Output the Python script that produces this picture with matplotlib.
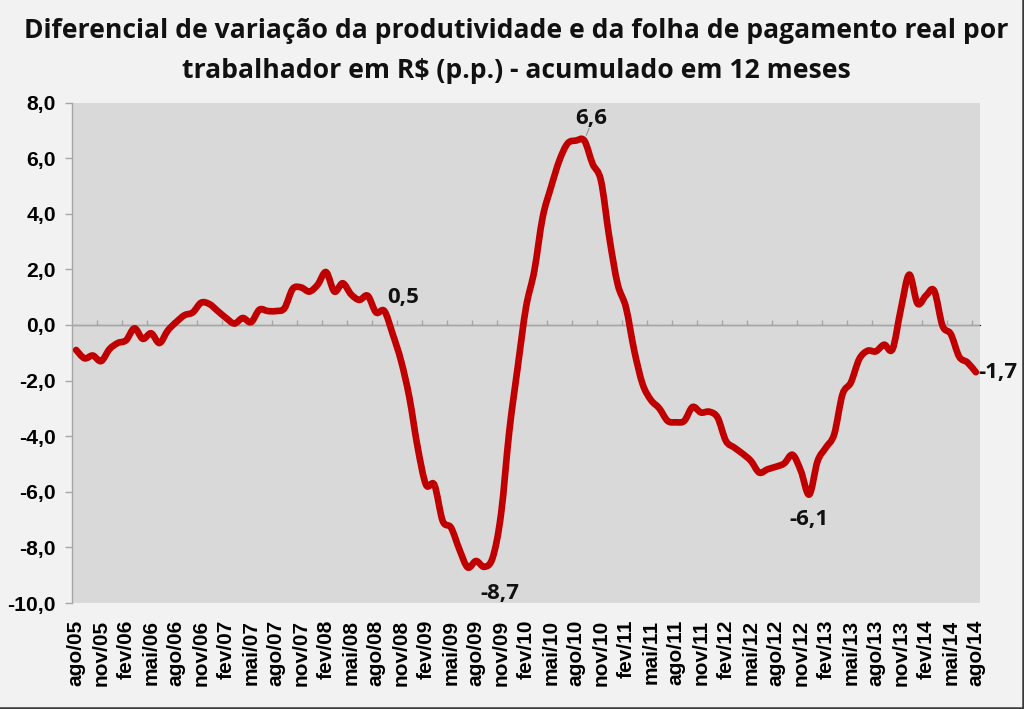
import matplotlib
matplotlib.use("Agg")
import matplotlib.pyplot as plt
from matplotlib.lines import Line2D
from matplotlib.path import Path
from matplotlib.patches import PathPatch
import numpy as np

# ---------------- data ----------------
months = ["jan", "fev", "mar", "abr", "mai", "jun", "jul", "ago", "set", "out", "nov", "dez"]
start_year, start_month = 2005, 8  # ago/05
values = [
    -0.90, -1.20, -1.10, -1.30, -0.87, -0.65, -0.55, -0.12, -0.50, -0.30,
    -0.65, -0.20, 0.10, 0.35, 0.45, 0.80, 0.75, 0.50, 0.25, 0.05,
    0.25, 0.10, 0.55, 0.50, 0.50, 0.60, 1.30, 1.35, 1.20, 1.45,
    1.90, 1.20, 1.50, 1.10, 0.90, 1.05, 0.45, 0.50, -0.33, -1.29,
    -2.61, -4.41, -5.75, -5.75, -7.05, -7.29, -8.07, -8.72, -8.49, -8.70,
    -8.37, -6.81, -3.81, -1.53, 0.63, 1.95, 3.87, 4.95, 5.91, 6.53,
    6.63, 6.63, 5.79, 5.19, 3.15, 1.47, 0.63, -0.93, -2.13, -2.70,
    -3.00, -3.45, -3.50, -3.45, -2.95, -3.15, -3.12, -3.33, -4.17, -4.41,
    -4.63, -4.89, -5.31, -5.19, -5.10, -4.98, -4.67, -5.25, -6.10, -4.90,
    -4.41, -3.93, -2.49, -2.07, -1.23, -0.93, -0.95, -0.71, -0.87, 0.57,
    1.81, 0.77, 1.05, 1.23, -0.03, -0.33, -1.14, -1.35, -1.70,
]
categories = []
for k in range(len(values)):
    m = (start_month - 1 + k) % 12
    y = start_year + (start_month - 1 + k) // 12
    categories.append(f"{months[m]}/{y % 100:02d}")

label_points = [37, 49, 61, 88, 108]
label_texts = ["0,5", "-8,7", "6,6", "-6,1", "-1,7"]
label_offsets = [(2, 9.5), (11, -19), (5, 16), (0, -18), (1.5, 0)]  # points
label_ha = ["left", "center", "center", "center", "left"]

yticks = [8, 6, 4, 2, 0, -2, -4, -6, -8, -10]
title_lines = ["Diferencial de variação da produtividade e da folha de pagamento real por",
               "trabalhador em R$ (p.p.) - acumulado em 12 meses"]

# ---------------- figure ----------------
W, H = 1024, 709
fig = plt.figure(figsize=(W / 100, H / 100), dpi=100)
fig.patch.set_facecolor("#f2f2f2")

ax = fig.add_axes([72 / W, 1 - 603 / H, (980 - 72) / W, (603 - 102.5) / H])
ax.set_facecolor("#d9d9d9")

# smoothed line (like a spreadsheet "smoothed line"): cubic Bezier through the data points
x = np.arange(len(values), dtype=float)
yv = np.asarray(values, dtype=float)
P = np.column_stack([x, yv])
Pext = np.vstack([P[0], P, P[-1]])
verts = [tuple(P[0])]
codes = [Path.MOVETO]
for k in range(len(P) - 1):
    p0, p1, p2, p3 = Pext[k], Pext[k + 1], Pext[k + 2], Pext[k + 3]
    c1 = p1 + (p2 - p0) / 6.0
    c2 = p2 - (p3 - p1) / 6.0
    verts += [tuple(c1), tuple(c2), tuple(p2)]
    codes += [Path.CURVE4, Path.CURVE4, Path.CURVE4]
ax.add_patch(PathPatch(Path(verts, codes), facecolor="none", edgecolor="#c00000",
                       lw=4.8, joinstyle="round", capstyle="round", zorder=3))

ax.set_xlim(-0.5, len(values) - 0.5)
ax.set_ylim(-10, 8)

for s in ["top", "right", "bottom"]:
    ax.spines[s].set_visible(False)
ax.spines["left"].set_color("#a6a6a6")
ax.spines["left"].set_linewidth(1.0)

ax.set_yticks(yticks)
ax.set_yticklabels([f"{v:.1f}".replace(".", ",") for v in yticks],
                   fontfamily="Liberation Sans", fontweight="bold", fontsize=15.2)
ax.tick_params(axis="y", direction="out", length=5, width=1, color="#a6a6a6", pad=6.5)

idx = list(range(0, len(values), 3))
ax.set_xticks(idx)
ax.set_xticklabels([categories[i] for i in idx], rotation=90,
                   fontfamily="Liberation Sans", fontweight="bold", fontsize=15)
ax.tick_params(axis="x", length=0, pad=12)

# category axis crossing at zero, with tick marks between categories
ax.axhline(0, color="#a6a6a6", lw=1.0, zorder=2)
sec = ax.secondary_xaxis(10 / 18)
sec.spines["bottom"].set_visible(False)
sec.set_xticks([i - 0.5 for i in range(3, len(values), 3)])
sec.set_xticklabels([])
sec.tick_params(axis="x", direction="out", length=3.5, width=1, color="#a6a6a6")

# data labels
for i, t, off, ha in zip(label_points, label_texts, label_offsets, label_ha):
    ax.annotate(t, (i, values[i]), xytext=off, textcoords="offset points",
                ha=ha, va="center", fontfamily="Open Sans", fontweight="bold",
                fontsize=16, color="#111111", zorder=4)
# leader line for the 6,6 label
ax.annotate("", (label_points[2], values[label_points[2]]), xytext=(3.5, 9),
            textcoords="offset points",
            arrowprops=dict(arrowstyle="-", color="#7f7f7f", lw=0.6,
                            shrinkA=0, shrinkB=4))

# title (two centered lines)
renderer = fig.canvas.get_renderer()
t1 = fig.text(516 / W, 1 - 31 / H, title_lines[0], ha="center", va="center",
              fontfamily="Open Sans", fontweight="bold", fontsize=16, color="#111111")
t2 = fig.text(516 / W, 1 - 71 / H, title_lines[1], ha="center", va="center",
              fontfamily="Open Sans", fontweight="bold", fontsize=16, color="#111111")
wpx = t1.get_window_extent(renderer).width
fs = 16 * 982 / wpx
t1.set_fontsize(fs)
t2.set_fontsize(fs)

# dark frame on right and bottom edges
fig.add_artist(Line2D([0, 1], [1.2 / H, 1.2 / H], transform=fig.transFigure,
                      color="#3a3a3a", lw=1.8))
fig.add_artist(Line2D([1 - 1.5 / W, 1 - 1.5 / W], [0, 1], transform=fig.transFigure,
                      color="#3a3a3a", lw=1.8))

fig.savefig("out.png", dpi=100, facecolor=fig.get_facecolor())
